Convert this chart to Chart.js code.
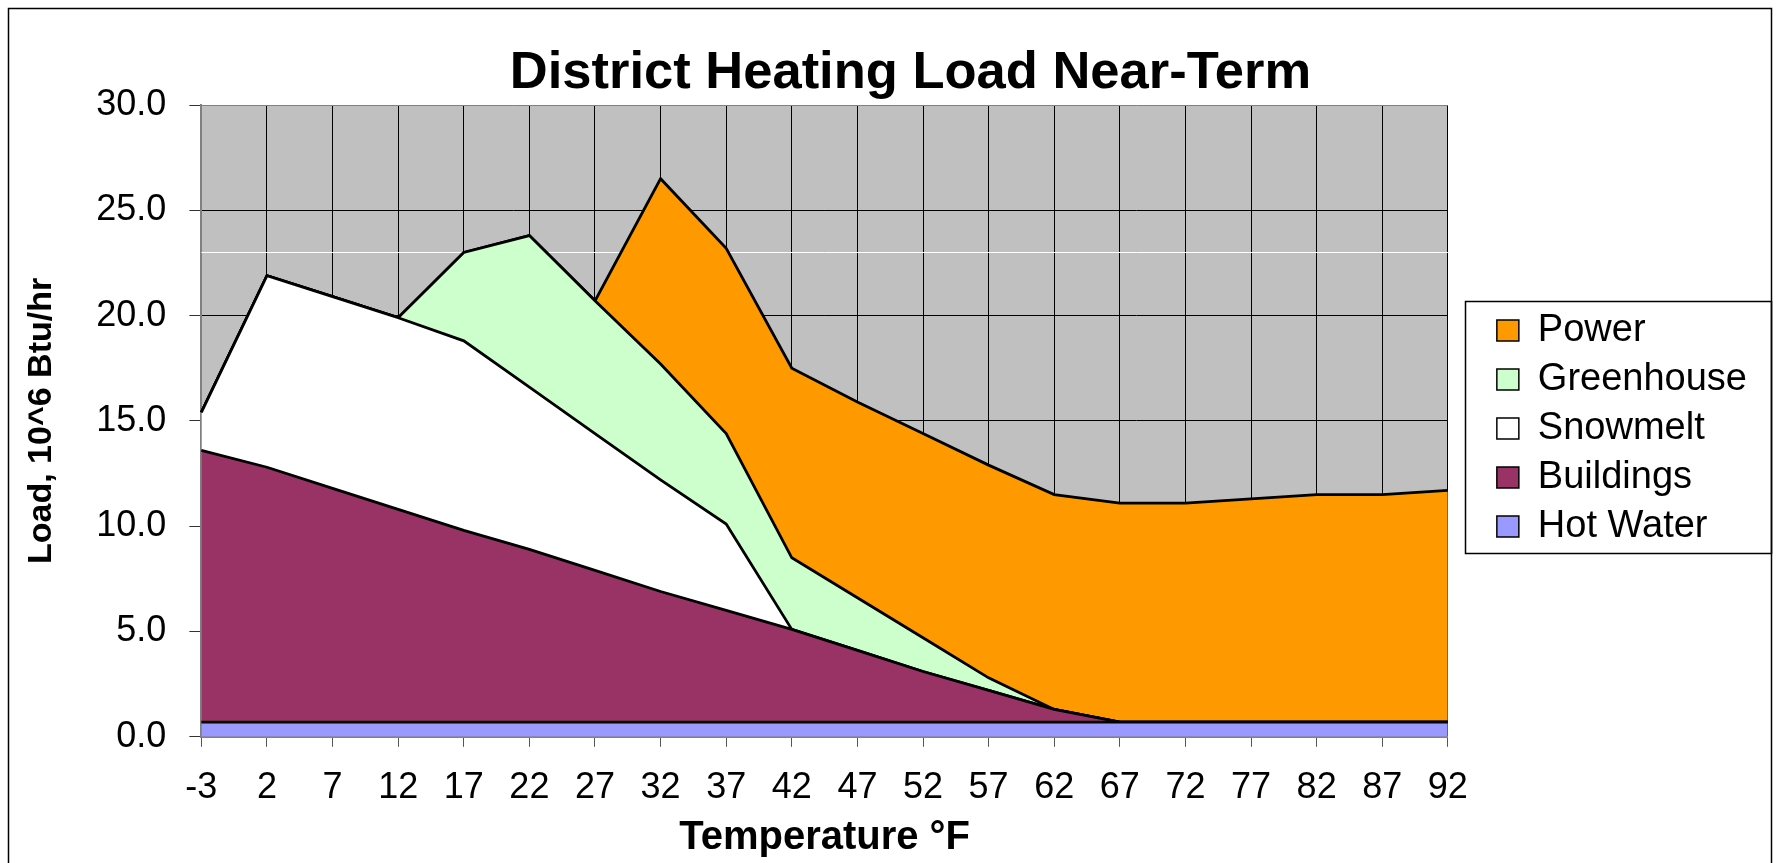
<!DOCTYPE html>
<html>
<head>
<meta charset="utf-8">
<script src="https://cdn.jsdelivr.net/npm/chart.js@4/dist/chart.umd.min.js"></script>
<style>
  body { margin: 0; background: #fff; }
  canvas { display: block; }
</style>
</head>
<body>
<canvas id="chart" width="1777" height="863"></canvas>
<script>
// temperatures (deg F) along the bottom
const temps = ['-3', '2', '7', '12', '17', '22', '27', '32', '37', '42',
               '47', '52', '57', '62', '67', '72', '77', '82', '87', '92'];

// loads, 10^6 Btu/hr (stacked, bottom to top)
const hotWater   = [0.7, 0.7, 0.7, 0.7, 0.7, 0.7, 0.7, 0.7, 0.7, 0.7,
                    0.7, 0.7, 0.7, 0.7, 0.7, 0.7, 0.7, 0.7, 0.7, 0.7];
const buildings  = [12.9, 12.1, 11.1, 10.1, 9.1, 8.2, 7.2, 6.2, 5.3, 4.4,
                    3.4, 2.4, 1.5, 0.6, 0, 0, 0, 0, 0, 0];
const snowmelt   = [1.8, 9.1, 9.1, 9.1, 9.0, 7.7, 6.5, 5.3, 4.1, 0,
                    0, 0, 0, 0, 0, 0, 0, 0, 0, 0];
const greenhouse = [0, 0, 0, 0, 4.2, 7.2, 6.3, 5.5, 4.3, 3.4,
                    2.5, 1.6, 0.6, 0, 0, 0, 0, 0, 0, 0];
const power      = [0, 0, 0, 0, 0, 0, 0, 8.8, 8.8, 9.0,
                    9.3, 9.7, 10.1, 10.2, 10.4, 10.4, 10.6, 10.8, 10.8, 11.0];

// the faint white line across the plot
const whiteLineValue = 23;

const FONT = "'Liberation Sans', Arial, sans-serif";
Chart.defaults.font.family = FONT;
Chart.defaults.color = '#000';

function area(label, data, color, fill) {
    return {
        label: label,
        data: data,
        backgroundColor: color,
        borderColor: '#000',
        borderWidth: 2.8,
        pointRadius: 0,
        tension: 0,
        fill: fill
    };
}

// grey plot background, white line, frames, title/legend nudges
const decor = {
    id: 'decor',
    afterLayout(c) {
        const t = c.titleBlock;
        t.left += 47; t.right += 47;
        const lg = c.legend;
        lg.left += 38; lg.right += 38;
        lg.top -= 24; lg.bottom -= 24;
    },
    beforeDraw(c) {
        const a = c.chartArea;
        c.ctx.save();
        c.ctx.fillStyle = '#C0C0C0';
        c.ctx.fillRect(a.left, a.top, a.right - a.left, a.bottom - a.top);
        c.ctx.restore();
    },
    beforeDatasetsDraw(c) {
        const a = c.chartArea;
        const y = Math.round(c.scales.y.getPixelForValue(whiteLineValue)) + 0.5;
        const ctx = c.ctx;
        ctx.save();
        ctx.strokeStyle = '#fff';
        ctx.lineWidth = 1;
        ctx.beginPath();
        ctx.moveTo(a.left, y);
        ctx.lineTo(a.right, y);
        ctx.stroke();
        ctx.restore();
    },
    afterDraw(c) {
        const ctx = c.ctx;
        ctx.save();
        ctx.strokeStyle = '#000';
        ctx.lineWidth = 1.5;
        ctx.strokeRect(8.5, 8.5, 1763, 900);        // outer frame
        ctx.strokeRect(1465.5, 301.5, 306, 252);    // legend frame
        ctx.restore();
    }
};

new Chart(document.getElementById('chart'), {
    type: 'line',
    data: {
        labels: temps,
        datasets: [
            area('Hot Water', hotWater, '#9999FF', 'origin'),
            area('Buildings', buildings, '#993366', '-1'),
            area('Snowmelt', snowmelt, '#FFFFFF', '-1'),
            area('Greenhouse', greenhouse, '#CCFFCC', '-1'),
            area('Power', power, '#FF9900', '-1')
        ]
    },
    plugins: [decor],
    options: {
        responsive: false,
        animation: false,
        layout: { padding: { left: 8, right: 58, top: 42, bottom: 0 } },
        plugins: {
            title: {
                display: true,
                text: 'District Heating Load Near-Term',
                font: { size: 52.5, weight: 'bold' },
                padding: { top: 0, bottom: 0 }
            },
            legend: {
                position: 'right',
                reverse: true,
                labels: {
                    font: { size: 38 },
                    boxWidth: 22,
                    boxHeight: 21,
                    padding: 11,
                    generateLabels: (c) => Chart.defaults.plugins.legend.labels.generateLabels(c)
                        .map(l => Object.assign(l, { lineWidth: 1.5 }))
                }
            },
            tooltip: { enabled: false }
        },
        scales: {
            x: {
                offset: false,
                grid: { color: '#000', lineWidth: 1, tickLength: 10, tickColor: '#555' },
                border: { color: '#808080', width: 2 },
                ticks: { font: { size: 36 }, padding: 20, maxRotation: 0, autoSkip: false },
                title: {
                    display: true,
                    text: 'Temperature °F',
                    font: { size: 40, weight: 'bold' },
                    padding: { top: -16, bottom: 1 }
                }
            },
            y: {
                stacked: true,
                min: 0,
                max: 30,
                grid: {
                    color: (ctx) => ctx.tick && ctx.tick.value === 30 ? '#808080' : '#000',
                    lineWidth: 1,
                    tickLength: 12,
                    tickColor: '#333'
                },
                border: { color: '#808080', width: 2 },
                ticks: {
                    stepSize: 5,
                    font: { size: 36 },
                    padding: 23,
                    callback: (v) => v.toFixed(1)
                },
                title: {
                    display: true,
                    text: 'Load, 10^6 Btu/hr',
                    font: { size: 34, weight: 'bold' },
                    padding: { top: 13, bottom: 11.5 }
                }
            }
        }
    }
});
</script>
</body>
</html>
